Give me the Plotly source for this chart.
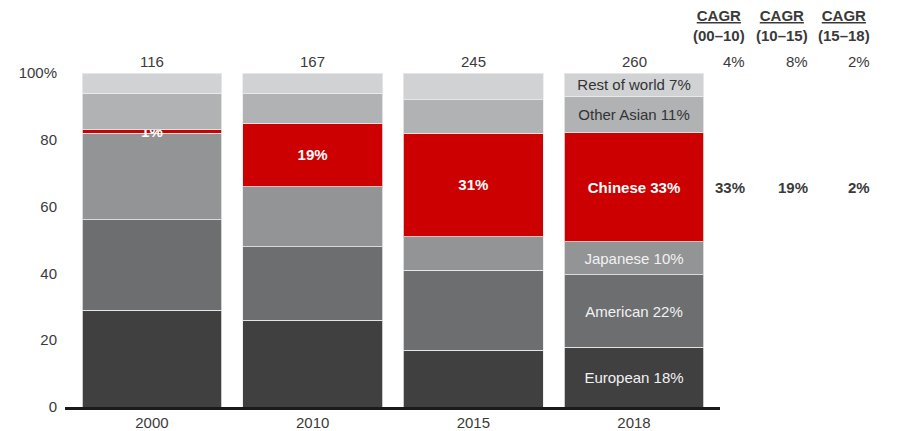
import plotly.graph_objects as go

# Shares of the market by origin (percent), stacked bottom to top
years = ["2000", "2010", "2015", "2018"]
totals = [116, 167, 245, 260]

european = [29, 26, 17, 18]
american = [27, 22, 24, 22]
japanese = [26, 18, 10, 10]
chinese = [1, 19, 31, 33]
other_asian = [11, 9, 10, 11]
rest_of_world = [6, 6, 8, 7]

cagr_headers = ["(00–10)", "(10–15)", "(15–18)"]
cagr_total = ["4%", "8%", "2%"]
cagr_chinese = ["33%", "19%", "2%"]

FONT = "Liberation Sans, Arial, sans-serif"
TXT = "#3a3a3a"

series = [
    ("European", european, "#404040", "#f2f2f2", False, False),
    ("American", american, "#6d6e70", "#f2f2f2", False, False),
    ("Japanese", japanese, "#939496", "#f2f2f2", False, False),
    ("Chinese", chinese, "#cc0000", "#ffffff", True, True),
    ("Other Asian", other_asian, "#b1b2b4", "#333333", False, False),
    ("Rest of world", rest_of_world, "#d1d2d4", "#333333", False, False),
]

fig = go.Figure()
for name, vals, color, tcolor, bold, all_years in series:
    texts = []
    for i, v in enumerate(vals):
        if i == len(vals) - 1:
            t = f"{name} {v}%"
        elif all_years:
            t = f"{v}%"
        else:
            t = ""
        texts.append(f"<b>{t}</b>" if (bold and t) else t)
    fig.add_trace(go.Bar(
        x=years, y=vals, name=name,
        marker=dict(color=color, line=dict(color="rgba(235,235,235,0.8)", width=1)),
        text=texts, textposition="inside", insidetextanchor="middle",
        textangle=0, constraintext="none",
        textfont=dict(family=FONT, size=15, color=tcolor),
        hoverinfo="skip", width=0.87,
    ))

annotations = []
# Totals above each bar
for i, tot in enumerate(totals):
    annotations.append(dict(
        x=i, y=1, xref="x", yref="paper", yanchor="bottom", yshift=1,
        text=str(tot), showarrow=False, font=dict(family=FONT, size=15, color=TXT),
    ))

# CAGR columns to the right of the chart
ax_left, ax_right = 65, 720
col_px = [747, 810, 872]
col_x = [(p - ax_left) / (ax_right - ax_left) for p in col_px]

# Mid-point of the Chinese segment in the last bar (normalised to 100)
last = [s[1][-1] for s in series]
scale = 100 / sum(last)
chinese_mid = (sum(last[:3]) + last[3] / 2) * scale

for cx, hdr, tv, cv in zip(col_x, cagr_headers, cagr_total, cagr_chinese):
    annotations.append(dict(
        x=cx, y=1, xref="paper", yref="paper", yanchor="bottom", yshift=27,
        text=f"<b><u>CAGR</u></b><br><b>{hdr}</b>", showarrow=False,
        font=dict(family=FONT, size=15, color=TXT),
    ))
    annotations.append(dict(
        x=cx, y=1, xref="paper", yref="paper", yanchor="bottom", yshift=1,
        text=tv, showarrow=False, font=dict(family=FONT, size=15, color=TXT),
    ))
    annotations.append(dict(
        x=cx, y=chinese_mid, xref="paper", yref="y",
        text=f"<b>{cv}</b>", showarrow=False, font=dict(family=FONT, size=15, color=TXT),
    ))

fig.update_layout(
    width=915, height=431,
    margin=dict(l=ax_left, r=915 - ax_right, t=73, b=24, autoexpand=False),
    barmode="stack", barnorm="percent", bargap=0.13,
    paper_bgcolor="white", plot_bgcolor="white",
    showlegend=False,
    font=dict(family=FONT, size=15, color=TXT),
    annotations=annotations,
    xaxis=dict(
        type="category", automargin=False,
        range=[-0.541, 3.535], showline=True, linewidth=3, linecolor="#1a1a1a",
        showgrid=False, ticks="", tickfont=dict(size=15, color=TXT), fixedrange=True,
    ),
    yaxis=dict(
        automargin=False,
        range=[0, 100], showgrid=False, zeroline=False, showline=False,
        tickvals=[0, 20, 40, 60, 80, 100],
        ticktext=["0", "20", "40", "60", "80", "100%"],
        ticks="", ticklabelstandoff=7,
        tickfont=dict(size=15, color=TXT), fixedrange=True,
    ),
)

fig.write_html("out.html")
